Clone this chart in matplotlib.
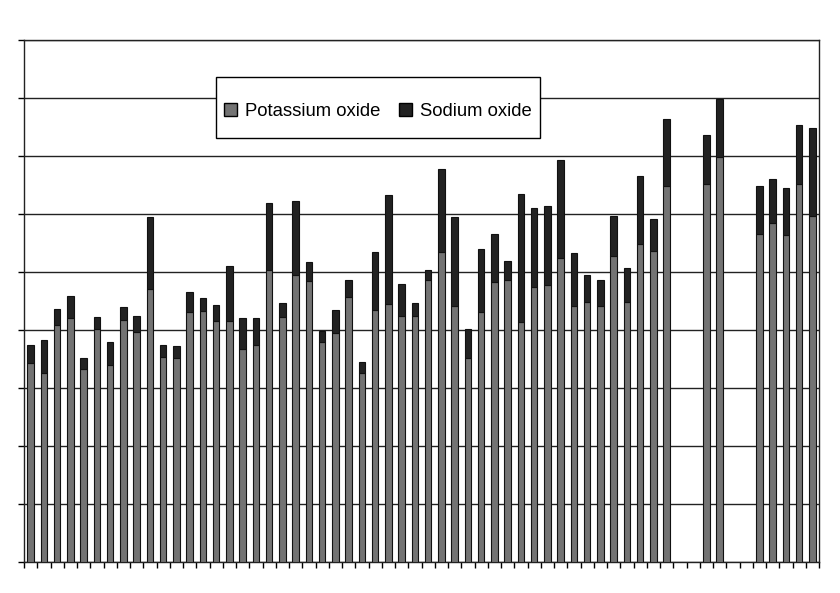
import matplotlib.pyplot as plt
from matplotlib.patches import Patch, Rectangle
import numpy as np

# values, in gridline units (nine gridline steps in the axis)
samples = list(range(1, 61))
potassium = [3.43, 3.26, 4.08, 4.20, 3.33, 4.02, 3.39, 4.17, 3.96, 4.71,
             3.54, 3.52, 4.31, 4.32, 4.16, 4.16, 3.67, 3.74, 5.04, 4.23,
             4.94, 4.84, 3.80, 3.95, 4.57, 3.26, 4.34, 4.44, 4.25, 4.24,
             4.87, 5.35, 4.41, 3.52, 4.31, 4.82, 4.86, 4.14, 4.75, 4.78,
             5.24, 4.41, 4.49, 4.41, 5.28, 4.49, 5.48, 5.37, 6.48, None,
             None, 6.52, 6.98, None, None, 5.66, 5.84, 5.64, 6.52, 5.97]
sodium = [0.32, 0.57, 0.28, 0.39, 0.19, 0.21, 0.41, 0.22, 0.29, 1.23,
          0.21, 0.21, 0.34, 0.24, 0.27, 0.95, 0.54, 0.47, 1.15, 0.23,
          1.28, 0.34, 0.19, 0.40, 0.29, 0.19, 1.01, 1.88, 0.55, 0.23,
          0.17, 1.42, 1.54, 0.49, 1.09, 0.84, 0.33, 2.20, 1.36, 1.36,
          1.69, 0.91, 0.45, 0.45, 0.69, 0.58, 1.17, 0.54, 1.15, None,
          None, 0.84, 1.01, None, None, 0.82, 0.77, 0.81, 1.01, 1.51]
series_names = ["Potassium oxide", "Sodium oxide"]
k_color, na_color = "#737373", "#222222"

idx = [i for i, v in enumerate(potassium) if v is not None]
x = np.arange(len(samples))
k = np.array([potassium[i] for i in idx])
na = np.array([sodium[i] for i in idx])

fig = plt.figure(figsize=(8.4, 5.93), dpi=100)
ax = fig.add_axes([24 / 840, 1 - 562 / 593, 795 / 840, 522 / 593])

ax.bar(x[idx], k, width=0.48, color=k_color, edgecolor="#111111",
       linewidth=0.8, zorder=3)
ax.bar(x[idx], na, bottom=k, width=0.48, color=na_color, edgecolor="#111111",
       linewidth=0.8, zorder=3)

ax.set_xlim(-0.5, len(samples) - 0.5)
ax.set_ylim(0, 9)
ax.set_yticks(np.arange(0, 10, 1))
ax.set_yticklabels([])
ax.set_xticks(np.arange(-0.5, len(samples), 1))
ax.set_xticklabels([])
ax.tick_params(axis="both", direction="out", length=4, width=1, color="black")
ax.yaxis.grid(True, color="#222222", linewidth=1.0, zorder=0)
ax.set_axisbelow(True)
for s in ax.spines.values():
    s.set_color("#222222")
    s.set_linewidth(1.0)

# legend frame drawn on its own: the original box is taller than its row
ax.add_patch(Rectangle((0.2415, 0.8123), 0.4075, 0.1168, transform=ax.transAxes,
                       facecolor="white", edgecolor="black", linewidth=1.0,
                       zorder=5))
handles = [Patch(facecolor=c, edgecolor="black", linewidth=1.0)
           for c in (k_color, na_color)]
leg = ax.legend(handles, series_names, loc="center",
                bbox_to_anchor=(0.4453, 0.8635), ncol=2, frameon=False,
                prop={"family": "Liberation Sans", "size": 13.3},
                handlelength=0.7, handleheight=0.7, handletextpad=0.45,
                columnspacing=1.0, borderpad=0.5, borderaxespad=0)
leg.set_zorder(6)

fig.savefig("out.png", dpi=100, facecolor="white")
plt.close(fig)
